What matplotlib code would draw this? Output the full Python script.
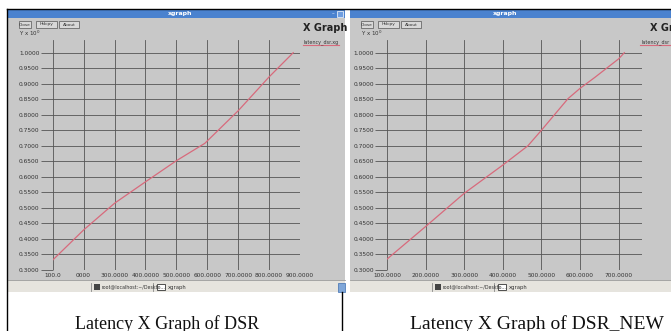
import matplotlib
matplotlib.use("Agg")
import matplotlib.pyplot as plt
from matplotlib.patches import Rectangle
from matplotlib.lines import Line2D

# latency values
dsr_x = [100, 200, 300, 400, 500, 592, 700, 800, 878]
dsr_y = [0.332, 0.429, 0.515, 0.584, 0.652, 0.708, 0.813, 0.922, 1.0]
new_x = [100, 200, 300, 400, 465, 500, 569, 600, 638, 700, 715]
new_y = [0.335, 0.44, 0.547, 0.638, 0.70, 0.75, 0.852, 0.885, 0.92, 0.98, 1.0]

y_ticks = [0.30, 0.35, 0.40, 0.45, 0.50, 0.55, 0.60, 0.65, 0.70, 0.75, 0.80, 0.85, 0.90, 0.95, 1.00]
dsr_xticks = [100, 200, 300, 400, 500, 600, 700, 800, 900]
dsr_xlabels = ["100.0", "0000", "300.0000", "400.0000", "500.0000", "600.0000", "700.0000", "800.0000", "900.0000"]
new_xticks = [100, 200, 300, 400, 500, 600, 700]
new_xlabels = ["100.0000", "200.0000", "300.0000", "400.0000", "500.0000", "600.0000", "700.0000"]

captions = ["Latency X Graph of DSR", "Latency X Graph of DSR_NEW"]
legend_names = ["latency_dsr.xg", "latency_dsr"]

W, H = 671, 331
fig = plt.figure(figsize=(W / 100, H / 100), dpi=100)
fig.patch.set_facecolor("white")

GRAY = "#c8c8c8"
BLUE = "#4a82cf"
TASK = "#e6e4de"
LINE = "#d86a7c"


def fx(x):
    return x / W


def fy(y):
    return 1 - y / H


def rect(x0, y0, x1, y1, **kw):
    fig.patches.append(Rectangle((fx(x0), fy(y1)), (x1 - x0) / W, (y1 - y0) / H,
                                 transform=fig.transFigure, **kw))


def line(x0, y0, x1, y1, **kw):
    fig.lines.append(Line2D([fx(x0), fx(x1)], [fy(y0), fy(y1)], transform=fig.transFigure, **kw))


def text(x, y, s, **kw):
    fig.text(fx(x), fy(y), s, **kw)


def window(x0, x1, title_x):
    # title bar, body, taskbar
    rect(x0, 10, x1, 18, facecolor=BLUE, edgecolor="none")
    text(title_x, 14, "xgraph", color="white", fontsize=4.5, fontweight="bold", ha="center", va="center")
    rect(x0, 18, x1, 280, facecolor=GRAY, edgecolor="none")
    rect(x0, 280, x1, 292, facecolor=TASK, edgecolor="none")
    line(x0, 280, x1, 280, color="#9a9a9a", lw=0.6)
    # buttons
    for bx0, bx1, lab in [(x0 + 11, x0 + 23, "Close"), (x0 + 28, x0 + 49, "Hdcpy"), (x0 + 51, x0 + 71, "About")]:
        rect(bx0, 21, bx1, 28, facecolor="#d8d8d8", edgecolor="#555555", lw=0.5)
        text((bx0 + bx1) / 2, 24.5, lab, fontsize=3.2, ha="center", va="center", color="#333333")
    text(x0 + 11, 33, "Y x 10$^0$", fontsize=4, ha="left", va="center", color="#333333")


def taskbar(x0):
    line(x0, 283, x0, 291, color="#888888", lw=0.6)
    rect(x0 + 3, 284, x0 + 9, 290, facecolor="#444444", edgecolor="none")
    text(x0 + 11, 287, "root@localhost:~/Deskto...", fontsize=3.4, va="center", color="#333333")
    line(x0 + 62, 283, x0 + 62, 291, color="#888888", lw=0.6)
    rect(x0 + 66, 284, x0 + 74, 290, facecolor="white", edgecolor="#333333", lw=0.6)
    text(x0 + 77, 287, "xgraph", fontsize=3.8, va="center", color="#333333")


window(8, 345, 180)
window(350, 671, 505)
taskbar(91)
taskbar(432)

# window controls on left title bar
text(333, 13.5, "–", color="white", fontsize=4, ha="center", va="center")
rect(337, 11, 343, 17, facecolor="#6f9ee0", edgecolor="white", lw=0.5)
rect(338, 283, 345, 292, facecolor="#7fa6d8", edgecolor="#3f6fb0", lw=0.5)

# "X Graph" headers and legends
text(303, 28, "X Graph", fontsize=7, fontweight="bold", va="center", color="#222222")
text(650, 28, "X Graph", fontsize=7, fontweight="bold", va="center", color="#222222")
for lx, name in [(303, legend_names[0]), (640, legend_names[1])]:
    text(lx + 1, 42, name, fontsize=3.5, va="center", color="#333333")
    line(lx, 45, lx + 36, 45, color=LINE, lw=0.8)


def plot_panel(left, right, xs, ys, xmax, xticks, xlabels):
    ax = fig.add_axes([fx(left), fy(270), (right - left) / W, 230 / H], zorder=5)
    ax.patch.set_alpha(0)
    ax.plot(xs, ys, color=LINE, lw=0.9, zorder=3)
    ax.set_xlim(100, xmax)
    ax.set_ylim(0.3, 1.041)
    ax.set_xticks(xticks)
    ax.set_xticklabels(xlabels)
    ax.set_yticks(y_ticks)
    ax.set_yticklabels(["%.4f" % v for v in y_ticks])
    ax.grid(True, color="#555555", lw=0.6)
    for s in ax.spines.values():
        s.set_visible(False)
    ax.tick_params(axis="y", length=9, width=0.6, color="#555555", pad=0.5,
                   labelsize=4.2, labelcolor="#333333")
    ax.tick_params(axis="x", length=0, pad=2.5, labelsize=4.2, labelcolor="#333333")
    return ax


plot_panel(52.7, 300, dsr_x, dsr_y, 900, dsr_xticks, dsr_xlabels)
plot_panel(387, 641.7, new_x, new_y, 760, new_xticks, new_xlabels)

# document table borders
line(7, 9, 671, 9, color="black", lw=1)
line(7, 9, 7, 331, color="black", lw=1)
line(342, 292, 342, 331, color="black", lw=1)

# captions
text(167, 329, captions[0], fontsize=13, family="Liberation Serif", ha="center", va="baseline", color="#111111")
text(537, 329, captions[1], fontsize=14, family="Liberation Serif", ha="center", va="baseline", color="#111111")

fig.savefig("out.png", dpi=100)
